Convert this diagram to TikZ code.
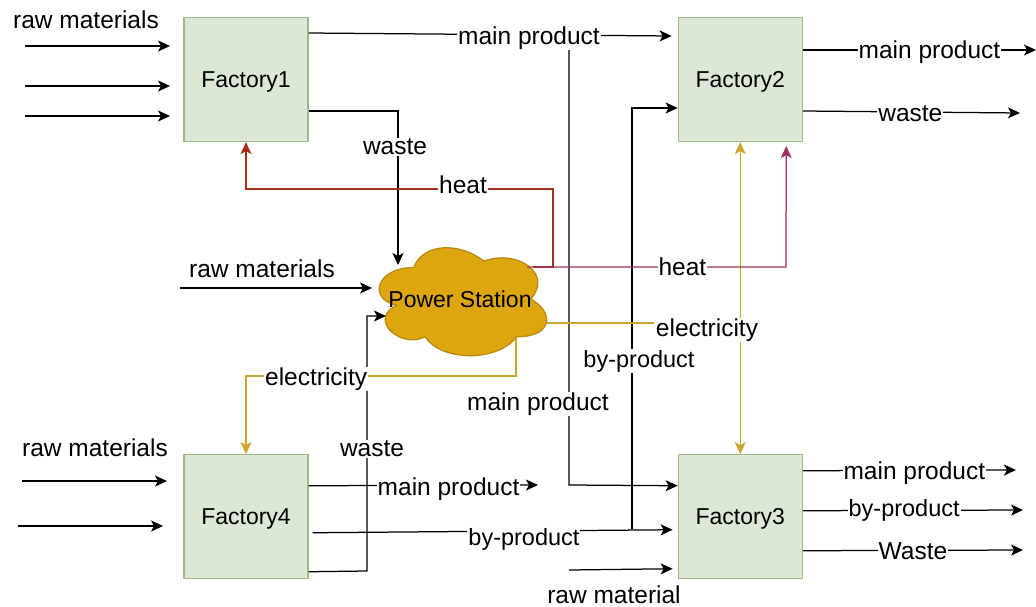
\documentclass[tikz,border=0pt]{standalone}
\usepackage{fontspec}
\setmainfont{Liberation Sans}
\usepackage{xcolor}
\usetikzlibrary{positioning, arrows.meta}

\definecolor{boxfill}{HTML}{DAE8D5}
\definecolor{boxline}{HTML}{9DBB85}
\definecolor{cloudfill}{HTML}{DDA50E}
\definecolor{cloudline}{HTML}{B9890F}
\definecolor{heatred}{HTML}{A8301A}
\definecolor{heatpink}{HTML}{A3305E}
\definecolor{elecline}{HTML}{CCA62C}

\begin{document}
\begin{tikzpicture}[
        x=1pt, y=-1pt,
        >={Stealth[length=12pt,width=11pt,inset=3pt]},
        line width=1.25pt,
        every node/.style={font=\fontsize{24.5}{28}\selectfont},
        box/.style={draw=boxline, fill=boxfill, rectangle, minimum size=124pt, text depth=0pt, font=\fontsize{23}{27}\selectfont},
        lab/.style={fill=white, inner sep=1pt},
        bylab/.style={lab, font=\fontsize{23.5}{27}\selectfont},
        heatleft/.style={draw=heatred, ->},
        heatright/.style={draw=heatpink, ->},
        elec/.style={draw=elecline, <->}
    ]
    \useasboundingbox (0,0) rectangle (1036,607);

    \node[box] at (246,79.5) (factory1) {Factory1};
    \node[box, right=369pt of factory1] (factory2) {Factory2};
    \node[box, below=312pt of factory1] (factory4) {Factory4};
    \node[box, right=369pt of factory4] (factory3) {Factory3};

    % cloud outline, the node only holds the text
    \draw[draw=cloudline, fill=cloudfill, shift={(367,236)}, x=187pt, y=-126pt]
        (0.25,0.25) .. controls (0.05,0.25) and (0,0.5) .. (0.16,0.55)
        .. controls (0,0.66) and (0.18,0.9) .. (0.31,0.8)
        .. controls (0.4,1) and (0.7,1) .. (0.8,0.8)
        .. controls (1,0.8) and (1,0.6) .. (0.875,0.5)
        .. controls (1,0.3) and (0.8,0.1) .. (0.625,0.2)
        .. controls (0.5,0.05) and (0.3,0.05) .. (0.25,0.25) -- cycle;
    \node[font=\fontsize{23}{27}\selectfont] at (460,299) (power) {Power Station};

    % free ends
    \coordinate (rawa) at (25,46);
    \coordinate (rawb) at (25,86);
    \coordinate (rawc) at (25,116);
    \coordinate (rawaend) at (170,46);
    \coordinate (rawbend) at (170,86);
    \coordinate (rawcend) at (170,116);
    \coordinate (rawm) at (180,288);
    \coordinate (rawd) at (22,481);
    \coordinate (rawe) at (18,526);
    \coordinate (rawdend) at (167,481);
    \coordinate (raweend) at (163,526);
    \coordinate (rawf) at (569,570);
    \coordinate (outa) at (1036,50);
    \coordinate (outb) at (1020,113);
    \coordinate (outc) at (1016,470);
    \coordinate (outd) at (1023,510);
    \coordinate (oute) at (1023,550);
    \coordinate (outf) at (538,485);

    % corners
    \coordinate (mainjoin) at (569,35);
    \coordinate (mainturn) at (569,485);
    \coordinate (byjoin) at (632,529);
    \coordinate (byturn) at (632,108);
    \coordinate (wastebot) at (367,571);
    \coordinate (wastetop) at (367,316);
    \coordinate (elecb) at (516,376);
    \coordinate (elecc) at (246,376);
    \coordinate (heata) at (553,267);
    \coordinate (heatb) at (553,189);
    \coordinate (heatc) at (246,189);
    \coordinate (heatd) at (786,267);

    \draw[->] (rawa) -- (rawaend);
    \draw[->] (rawb) -- (rawbend);
    \draw[->] (rawc) -- (rawcend);
    \draw[->] (rawd) -- (rawdend);
    \draw[->] (rawe) -- (raweend);
    \draw[->] (rawm) -- ([shift={(-88,-11)}]power.center);

    \node at (86,20) (rawlaba) {raw materials};
    \node at (262,269) (rawlabb) {raw materials};
    \node at (95,448) (rawlabc) {raw materials};
    \node at (614,595) (rawlabd) {raw material};

    % branches first, the labels lie over them
    \draw[->] (mainjoin) -- (mainturn) -- ([yshift=31pt]factory3.west);
    \draw[->] (byjoin) -- (byturn) -- ([yshift=-28.5pt]factory2.west);
    \draw[->] ([yshift=46.5pt]factory1.east) -- node[lab, pos=.607, yshift=-3pt] {main product} ([xshift=-6pt,yshift=43.5pt]factory2.west);
    \draw[->] ([yshift=-31.5pt]factory1.east) -| node[lab, pos=.61, xshift=-3pt, yshift=-2pt] {waste} ([shift={(-62,-34)}]power.center);
    \draw[->] ([xshift=4pt,yshift=-16pt]factory4.east) -- node[bylab, pos=.587, yshift=-8pt] {by-product} ([xshift=-5pt,yshift=-13pt]factory3.west);
    \draw[->] ([yshift=29.5pt]factory2.east) -- node[lab, pos=.543, yshift=-2pt] {main product} (outa);
    \draw[->] ([yshift=-31.5pt]factory2.east) -- node[lab, pos=.495, yshift=-2pt] {waste} (outb);
    \draw[->] ([yshift=46pt]factory3.east) -- node[lab, pos=.523, yshift=-3pt] {main product} (outc);
    \draw[->] ([yshift=6pt]factory3.east) -- node[bylab, pos=.46] {by-product} (outd);
    \draw[->] ([yshift=-34pt]factory3.east) -- node[lab, pos=.5, yshift=-1pt] {Waste} (oute);
    \draw[->] ([yshift=31pt]factory4.east) -- node[lab, pos=.61, yshift=-4pt] {main product} (outf);
    \draw[->] (rawf) -- ([xshift=-5pt,yshift=-52pt]factory3.west);
    \draw[->] ([yshift=-55pt]factory4.east) -- (wastebot) -- node[lab, pos=.48, xshift=5pt] {waste} (wastetop) -- ([shift={(-74,17)}]power.center);

    \node[bylab] at (639,361) (bylab) {by-product};
    \node[lab] at (538,404) (mainlab) {main product};

    \draw[elec] (factory2.south) -- (factory3.north);
    \node[lab] at (707,330) (eleclab) {electricity};
    \draw[draw=elecline] ([shift={(87,24)}]power.center) -- ([yshift=7pt]eleclab.west);
    \draw[elec, <-] (factory4.north) -- (elecc) -- node[lab, pos=.26, yshift=-3pt] {electricity} (elecb) -- ([shift={(56,39)}]power.center);

    \draw[heatleft] ([shift={(73,-32)}]power.center) -- (heata) -- (heatb) -- node[lab, pos=.293, yshift=4pt] {heat} (heatc) -- (factory1.south);
    \draw[heatright] ([shift={(67,-32)}]power.center) -- node[lab, pos=.6] {heat} (heatd) -- ([xshift=46pt,yshift=-4pt]factory2.south);

\end{tikzpicture}
\end{document}
